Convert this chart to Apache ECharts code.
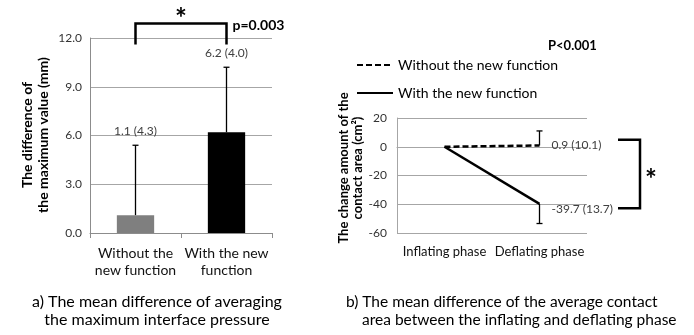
<!DOCTYPE html>
<html><head><meta charset="utf-8">
<script src="https://cdn.jsdelivr.net/npm/echarts@6/dist/echarts.min.js"></script>
<style>html,body{margin:0;padding:0;background:#fff}#c{width:694px;height:335px}</style>
</head><body><div id="c"></div>
<script>
// ---- data ----
const catsA = ['Without the\nnew function', 'With the new\nfunction'];
const meanA = [1.1, 6.2];
const sdA = [4.3, 4.0];
const colorsA = ['#7f7f7f', '#000000'];
const catsB = ['Inflating phase', 'Deflating phase'];
const withoutB = [0, 0.9];
const withB = [0, -39.7];
const sdWithoutB = [null, 10.1];   // upward error
const sdWithB = [null, 13.7];      // downward error
const seriesNamesB = ['Without the new function', 'With the new function'];

const FONT = 'Lato, "Open Sans", sans-serif';
const chart = echarts.init(document.getElementById('c'), null, {renderer: 'canvas'});

function errRender(cap, labelFn) {
  return function (params, api) {
    const x = api.value(0), m = api.value(1), e = api.value(2);
    const p0 = api.coord([x, m]);
    const p1 = api.coord([x, m + e]);
    const children = [
      {type: 'line', shape: {x1: p0[0], y1: p0[1], x2: p1[0], y2: p1[1]}, style: {stroke: '#000', lineWidth: 1.3}},
      {type: 'line', shape: {x1: p1[0] - cap, y1: p1[1], x2: p1[0] + cap, y2: p1[1]}, style: {stroke: '#000', lineWidth: 1.3}}
    ];
    if (labelFn) {
      children.push(labelFn(params.dataIndex, p0, p1));
    }
    return {type: 'group', children};
  };
}

const option = {
  animation: false,
  textStyle: {fontFamily: FONT},
  legend: {
    orient: 'vertical', left: 351, top: 53, itemGap: 14, itemWidth: 36, itemHeight: 14,
    itemStyle: {opacity: 0},
    textStyle: {fontSize: 14, color: '#000', fontFamily: FONT},
    data: seriesNamesB
  },
  grid: [
    {left: 90, top: 38, width: 182, height: 195},
    {left: 397, top: 118, width: 190, height: 115}
  ],
  xAxis: [
    {gridIndex: 0, type: 'category', data: catsA,
     axisLine: {lineStyle: {color: '#8c8c8c'}}, axisTick: {show: true, length: 5, lineStyle: {color: '#8c8c8c'}},
     axisLabel: {interval: 0, color: '#111', fontSize: 14, margin: 12, lineHeight: 17, fontFamily: FONT}},
    {gridIndex: 1, type: 'category', data: catsB,
     axisLine: {lineStyle: {color: '#a6a6a6'}}, axisTick: {show: false},
     axisLabel: {interval: 0, color: '#111', fontSize: 13, margin: 12, fontFamily: FONT}}
  ],
  yAxis: [
    {gridIndex: 0, type: 'value', min: 0, max: 12, interval: 3,
     axisLine: {show: true, lineStyle: {color: '#8c8c8c'}}, axisTick: {show: false},
     splitLine: {lineStyle: {color: '#a6a6a6'}},
     axisLabel: {color: '#333', fontSize: 12, margin: 8, formatter: v => v.toFixed(1), fontFamily: FONT}},
    {gridIndex: 1, type: 'value', min: -60, max: 20, interval: 20,
     axisLine: {show: true, lineStyle: {color: '#a6a6a6'}}, axisTick: {show: false},
     splitLine: {lineStyle: {color: '#a6a6a6'}},
     axisLabel: {color: '#333', fontSize: 12, margin: 10, fontFamily: FONT}}
  ],
  series: [
    {type: 'bar', xAxisIndex: 0, yAxisIndex: 0, barWidth: '41%',
     data: meanA.map((v, i) => ({value: v, itemStyle: {color: colorsA[i]}}))},
    {type: 'custom', xAxisIndex: 0, yAxisIndex: 0, z: 5,
     renderItem: errRender(3, (i, p0, p1) => ({type: 'text', x: p1[0], y: p1[1] - 14,
       style: {text: meanA[i].toFixed(1) + ' (' + sdA[i].toFixed(1) + ')', fill: '#404040', font: '12px ' + FONT, textAlign: 'center', textVerticalAlign: 'middle'}})),
     data: meanA.map((v, i) => [i, v, sdA[i]])},
    {name: seriesNamesB[0], type: 'line', xAxisIndex: 1, yAxisIndex: 1, symbol: 'none',
     lineStyle: {color: '#000', width: 2.5, type: [6, 3]}, itemStyle: {color: '#000'},
     data: withoutB},
    {name: seriesNamesB[1], type: 'line', xAxisIndex: 1, yAxisIndex: 1, symbol: 'none',
     lineStyle: {color: '#000', width: 2.5}, itemStyle: {color: '#000'},
     data: withB},
    {type: 'custom', xAxisIndex: 1, yAxisIndex: 1, z: 5,
     renderItem: errRender(3, (i, p0, p1) => {
       const m = i === 0 ? withoutB[1] : withB[1];
       const s = i === 0 ? sdWithoutB[1] : sdWithB[1];
       return {type: 'text', x: p0[0] + 12, y: p0[1] + (i === 0 ? 0 : 5),
         style: {text: m.toFixed(1) + ' (' + s.toFixed(1) + ')', fill: '#404040', font: '12px ' + FONT, textAlign: 'left', textVerticalAlign: 'middle'}};
     }),
     data: [[1, withoutB[1], sdWithoutB[1]], [1, withB[1], -sdWithB[1]]]}
  ]
};
chart.setOption(option);

// annotations
const g = [];
const a0 = chart.convertToPixel({gridIndex: 0}, [0, 11.6]);
const a1 = chart.convertToPixel({gridIndex: 0}, [1, 12.9]);
g.push({type: 'polyline', shape: {points: [[a0[0], a0[1]], [a0[0], a1[1]], [a1[0], a1[1]], [a1[0], a0[1]]]}, style: {stroke: '#000', lineWidth: 2.5, fill: null}});
g.push({type: 'text', x: (a0[0] + a1[0]) / 2, y: a1[1] - 4, style: {text: '*', font: 'bold 28px ' + FONT, fill: '#000', textAlign: 'center', textVerticalAlign: 'middle'}});
g.push({type: 'text', x: a1[0] + 6, y: a1[1] + 2, style: {text: 'p=0.003', font: 'bold 14px ' + FONT, fill: '#000', textAlign: 'left', textVerticalAlign: 'middle'}});

const b0 = chart.convertToPixel({gridIndex: 1}, [1, 4.8]);
const b1 = chart.convertToPixel({gridIndex: 1}, [1, -42.8]);
const bx0 = 618, bx1 = 640;
g.push({type: 'polyline', shape: {points: [[bx0, b0[1]], [bx1, b0[1]], [bx1, b1[1]], [bx0, b1[1]]]}, style: {stroke: '#000', lineWidth: 2.5, fill: null}});
g.push({type: 'text', x: 651, y: (b0[1] + b1[1]) / 2 + 6, style: {text: '*', font: 'bold 28px ' + FONT, fill: '#000', textAlign: 'center', textVerticalAlign: 'middle'}});
g.push({type: 'text', x: 548, y: 46, style: {text: 'P<0.001', font: 'bold 13px ' + FONT, fill: '#000', textAlign: 'left', textVerticalAlign: 'middle'}});

// axis titles
g.push({type: 'text', x: 35, y: 135, rotation: Math.PI / 2, style: {text: 'The difference of\nthe maximum value (mm)', font: 'bold 14px ' + FONT, lineHeight: 16, fill: '#000', textAlign: 'center', textVerticalAlign: 'middle'}});
g.push({type: 'text', x: 351, y: 168, rotation: Math.PI / 2, style: {text: 'The change amount of the\ncontact area (cm²)', font: 'bold 13px ' + FONT, lineHeight: 14, fill: '#000', textAlign: 'center', textVerticalAlign: 'middle'}});

// captions
g.push({type: 'text', x: 157, y: 311, style: {text: 'a) The mean difference of averaging\nthe maximum interface pressure', font: '16px ' + FONT, lineHeight: 18, fill: '#000', textAlign: 'center', textVerticalAlign: 'middle'}});
g.push({type: 'text', x: 346, y: 302, style: {text: 'b) The mean difference of the average contact', font: '15.5px ' + FONT, fill: '#000', textAlign: 'left', textVerticalAlign: 'middle'}});
g.push({type: 'text', x: 362, y: 320, style: {text: 'area between the inflating and deflating phase', font: '15.5px ' + FONT, fill: '#000', textAlign: 'left', textVerticalAlign: 'middle'}});

chart.setOption({graphic: g});
</script></body></html>
